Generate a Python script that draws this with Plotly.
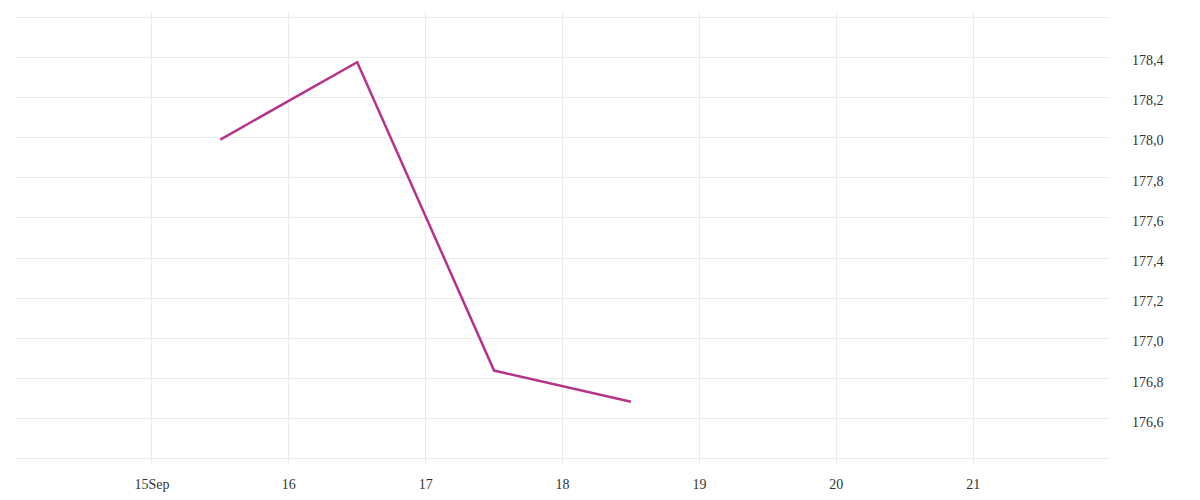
import pandas as pd
import plotly.graph_objects as go

# data
dates = ["2023-09-15 12:00", "2023-09-16 12:00", "2023-09-17 12:00", "2023-09-18 12:00"]
values = [177.99, 178.375, 176.84, 176.685]

x_tickvals = pd.date_range("2023-09-14", "2023-09-22", freq="D")
x_ticktext = ["", "15Sep", "16", "17", "18", "19", "20", "21", ""]

y_tickvals = [176.4, 176.6, 176.8, 177.0, 177.2, 177.4, 177.6, 177.8, 178.0, 178.2, 178.4, 178.6]
# end ticks carry a gridline but no label
y_ticktext = [""] + [f"{v:.1f}".replace(".", ",") for v in y_tickvals[1:-1]] + [""]

fig = go.Figure()
fig.add_trace(go.Scatter(
    x=pd.to_datetime(dates), y=values, mode="lines",
    line=dict(color="#b5338a", width=2.5),
    hoverinfo="skip", showlegend=False,
))

grid = "#ebebeb"
fig.update_xaxes(
    range=[x_tickvals[0], x_tickvals[-1]],
    tickvals=x_tickvals, ticktext=x_ticktext,
    showgrid=True, gridcolor=grid, gridwidth=1,
    zeroline=False, showline=False, ticks="",
    ticklabelstandoff=9,
)
fig.update_yaxes(
    side="right", range=[176.37, 178.625],
    tickvals=y_tickvals, ticktext=y_ticktext,
    showgrid=True, gridcolor=grid, gridwidth=1,
    zeroline=False, showline=False, ticks="",
    ticklabelstandoff=21, ticklabelshift=3,
)
# page body adds an 8px margin, so the figure is a bit smaller than the window
fig.update_layout(
    width=1192, height=492,
    margin=dict(l=7, r=90, t=4, b=35),
    paper_bgcolor="white", plot_bgcolor="white",
    font=dict(family="Liberation Serif", size=14, color="#333333"),
)

fig.write_html("out.html")
